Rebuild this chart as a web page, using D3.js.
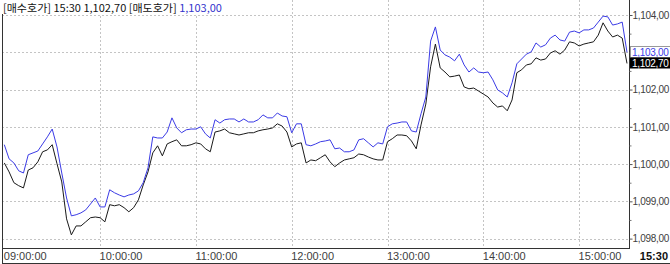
<!DOCTYPE html>
<html>
<head>
<meta charset="utf-8">
<script src="https://cdn.jsdelivr.net/npm/d3@7"></script>
<style>
  body { margin: 0; background: #fff; }
  svg { display: block; font-family: "Liberation Sans", Arial, sans-serif; }
</style>
</head>
<body>
<div id="chart"></div>
<script>
// DATA
////////////////////////////
// one reading every 3 minutes, 09:00 -> 15:30
var stepMinutes = 3;

// 매도호가 (ask, blue)
var ask = [
  1100.52,1100.14,1100.03,1099.82,1099.76,1100.25,1100.30,1100.35,1100.54,1100.73,
  1100.94,1100.46,1099.76,1099.09,1098.61,1098.64,1098.69,1098.77,1098.93,1099.09,
  1098.85,1098.85,1099.31,1099.23,1099.17,1099.12,1099.17,1099.20,1099.28,1099.50,
  1099.90,1100.73,1100.70,1100.70,1100.86,1101.24,1100.97,1100.84,1100.92,1100.94,
  1100.94,1101.00,1100.81,1100.70,1101.19,1101.10,1101.19,1101.21,1101.21,1101.13,
  1101.21,1101.13,1101.13,1101.19,1101.32,1101.24,1101.24,1101.37,1101.29,1101.27,
  1100.84,1101.08,1101.08,1100.52,1100.49,1100.54,1100.60,1100.62,1100.65,1100.41,
  1100.43,1100.33,1100.33,1100.38,1100.65,1100.68,1100.57,1100.46,1100.57,1100.54,
  1101.00,1101.08,1101.10,1101.13,1101.13,1100.89,1100.86,1101.35,1101.80,1103.30,
  1103.68,1103.06,1102.93,1102.87,1102.77,1102.95,1102.66,1102.47,1102.58,1102.47,
  1102.45,1102.47,1102.26,1101.99,1101.91,1101.80,1102.18,1102.69,1102.82,1102.95,
  1103.01,1103.25,1103.14,1103.20,1103.38,1103.46,1103.33,1103.30,1103.54,1103.57,
  1103.52,1103.60,1103.60,1103.65,1103.81,1103.97,1103.95,1103.73,1103.76,1103.81,
  1103.00
];

// 매수호가 (bid, black)
var bid = [
  1100.03,1099.79,1099.50,1099.42,1099.36,1099.84,1099.90,1100.06,1100.33,1100.38,
  1100.52,1100.01,1099.52,1098.53,1098.10,1098.34,1098.34,1098.45,1098.56,1098.58,
  1098.56,1098.45,1098.91,1098.88,1098.91,1098.83,1098.72,1098.83,1099.04,1099.44,
  1099.79,1100.30,1100.49,1100.22,1100.54,1100.60,1100.65,1100.49,1100.49,1100.52,
  1100.57,1100.54,1100.41,1100.33,1100.86,1100.89,1100.94,1100.84,1100.81,1100.78,
  1100.81,1100.84,1100.84,1100.89,1100.92,1100.94,1100.97,1101.08,1101.02,1100.86,
  1100.46,1100.54,1100.57,1100.03,1100.11,1100.09,1100.17,1100.25,1100.06,1099.93,
  1100.03,1100.11,1100.14,1100.17,1100.27,1100.25,1100.19,1100.14,1100.11,1100.11,
  1100.60,1100.68,1100.78,1100.78,1100.76,1100.62,1100.41,1101.05,1101.61,1102.61,
  1103.22,1102.58,1102.47,1102.34,1102.36,1102.39,1102.07,1102.02,1102.04,1101.96,
  1101.88,1101.80,1101.64,1101.53,1101.56,1101.43,1101.72,1102.45,1102.53,1102.66,
  1102.69,1102.85,1102.79,1102.82,1102.98,1103.04,1102.95,1103.06,1103.28,1103.25,
  1103.17,1103.22,1103.25,1103.28,1103.46,1103.79,1103.57,1103.41,1103.46,1103.38,
  1102.70
];

var hourLabels = ["09:00:00","10:00:00","11:00:00","12:00:00","13:00:00","14:00:00","15:00:00"];
var yTicks = [1098, 1099, 1100, 1101, 1102, 1103, 1104];
var yMinor = [1098.5, 1099.5, 1100.5, 1101.5, 1102.5, 1103.5];
var lastTime = "15:30";

// SETUP
////////////////////////////
var width = 670,
    height = 264,
    plotLeft = 2,
    plotRight = 629,
    plotBottom = 249;

var parseHMS = d3.timeParse("%H:%M:%S");
var t0 = parseHMS("09:00:00"),
    t1 = parseHMS("15:30:00");

var times = ask.map(function(d, i) { return d3.timeMinute.offset(t0, i * stepMinutes); });

var x = d3.scaleTime().domain([t0, t1]).range([4.3, 627]);
var y = d3.scaleLinear().domain([1098, 1104]).range([238.6, 15]);

// comma as decimal mark, like the source terminal
var fmt = d3.formatLocale({decimal: ",", thousands: ",", grouping: [3], currency: ["", ""]}).format(",.2f");

var svg = d3.select("#chart").append("svg")
    .attr("width", width)
    .attr("height", height);

svg.append("defs").append("clipPath").attr("id", "plot")
  .append("rect")
    .attr("x", plotLeft + 1).attr("y", 0)
    .attr("width", plotRight - plotLeft - 1).attr("height", plotBottom);

// grid
var grid = svg.append("g")
    .attr("stroke", "#c4c4c4")
    .attr("stroke-dasharray", "2,2")
    .attr("shape-rendering", "crispEdges");

grid.selectAll("line.h")
  .data(yTicks)
  .enter().append("line")
    .attr("class", "h")
    .attr("x1", plotLeft).attr("x2", plotRight)
    .attr("y1", function(d) { return Math.round(y(d)) + 0.5; })
    .attr("y2", function(d) { return Math.round(y(d)) + 0.5; });

var hourDates = hourLabels.map(parseHMS);
grid.selectAll("line.v")
  .data(hourDates.slice(1))
  .enter().append("line")
    .attr("class", "v")
    .attr("y1", 0).attr("y2", plotBottom)
    .attr("x1", function(d) { return Math.round(x(d)) + 0.5; })
    .attr("x2", function(d) { return Math.round(x(d)) + 0.5; });

// lines
var line = function(values) {
  return d3.line()
    .x(function(d, i) { return x(times[i]); })
    .y(function(d) { return y(d); })(values);
};

var lines = svg.append("g").attr("clip-path", "url(#plot)");
lines.append("path")
    .attr("d", line(bid))
    .attr("fill", "none")
    .attr("stroke", "#1a1a1a")
    .attr("stroke-width", 1);
lines.append("path")
    .attr("d", line(ask))
    .attr("fill", "none")
    .attr("stroke", "#3b3be6")
    .attr("stroke-width", 1);

// frame
var frame = svg.append("g").attr("stroke", "#333").attr("shape-rendering", "crispEdges");
frame.append("line").attr("x1", plotLeft + 0.5).attr("x2", plotLeft + 0.5).attr("y1", 10).attr("y2", height);
frame.append("line").attr("x1", plotLeft).attr("x2", plotRight).attr("y1", plotBottom - 0.5).attr("y2", plotBottom - 0.5);
frame.append("line").attr("x1", plotLeft).attr("x2", width).attr("y1", height - 0.5).attr("y2", height - 0.5);
frame.append("line").attr("x1", plotRight + 0.5).attr("x2", plotRight + 0.5).attr("y1", 0).attr("y2", plotBottom);

// right axis -- squeezed a touch so the labels stay inside the frame
var yAxis = svg.append("g")
    .attr("transform", "translate(" + (plotRight + 0.5) + ",0)")
    .call(d3.axisRight(y).tickValues(yTicks).tickSize(3).tickPadding(0).tickFormat(fmt));
yAxis.select(".domain").remove();
yAxis.selectAll("text")
    .attr("font-size", "10px")
    .attr("letter-spacing", "-0.3px")
    .attr("fill", "#404040")
    .attr("font-family", null);
yAxis.selectAll("line").attr("stroke", "#555");

var yMinorAxis = svg.append("g")
    .attr("transform", "translate(" + (plotRight + 0.5) + ",0)")
    .call(d3.axisRight(y).tickValues(yMinor).tickSize(2).tickFormat(""));
yMinorAxis.select(".domain").remove();
yMinorAxis.selectAll("line").attr("stroke", "#777");

// bottom axis (labels sit just right of each hour line)
var xAxis = svg.append("g")
    .attr("transform", "translate(0," + plotBottom + ")")
    .call(d3.axisBottom(x).tickValues(hourDates).tickSize(0).tickFormat(function(d, i) { return hourLabels[i]; }));
xAxis.select(".domain").remove();
xAxis.selectAll("text")
    .attr("text-anchor", "start")
    .attr("x", -1)
    .attr("y", 11)
    .attr("dy", 0)
    .attr("font-size", "11px")
    .attr("font-family", null)
    .attr("fill", "#404040");

svg.append("text")
    .attr("x", width - 2)
    .attr("y", plotBottom + 11)
    .attr("text-anchor", "end")
    .attr("font-size", "11px")
    .attr("font-weight", "bold")
    .attr("fill", "#111")
    .text(lastTime);

// last-price tags on the axis
var lastAsk = ask[ask.length - 1],
    lastBid = bid[bid.length - 1];

var yA = Math.round(y(lastAsk));
svg.append("rect")
    .attr("x", plotRight + 1.5).attr("y", yA - 5.5)
    .attr("width", width - plotRight).attr("height", 11)
    .attr("fill", "#fff").attr("stroke", "#999");
svg.append("text")
    .attr("x", plotRight + 3).attr("y", yA + 3.5)
    .attr("font-size", "10px").attr("letter-spacing", "-0.3px").attr("fill", "#3b3be6")
    .text(fmt(lastAsk));

svg.append("rect")
    .attr("x", plotRight + 1).attr("y", yA + 5.5)
    .attr("width", width - plotRight).attr("height", 11)
    .attr("fill", "#000");
svg.append("text")
    .attr("x", plotRight + 3).attr("y", yA + 14.5)
    .attr("font-size", "10px").attr("letter-spacing", "-0.3px").attr("fill", "#fff")
    .text(fmt(lastBid));

// header
svg.append("rect").attr("x", 0).attr("y", 0).attr("width", 226).attr("height", 14).attr("fill", "#fff");
var head = svg.append("text")
    .attr("x", 3).attr("y", 11.5)
    .attr("font-size", "10.5px")
    .attr("font-family", "'Noto Sans CJK KR', 'Liberation Sans', sans-serif")
    .attr("textLength", 219)
    .attr("lengthAdjust", "spacingAndGlyphs")
    .attr("fill", "#111");
head.append("tspan").text("[매수호가] " + lastTime + " " + fmt(lastBid) + " [매도호가] ");
head.append("tspan").attr("fill", "#3333cc").text(fmt(lastAsk));
</script>
</body>
</html>
